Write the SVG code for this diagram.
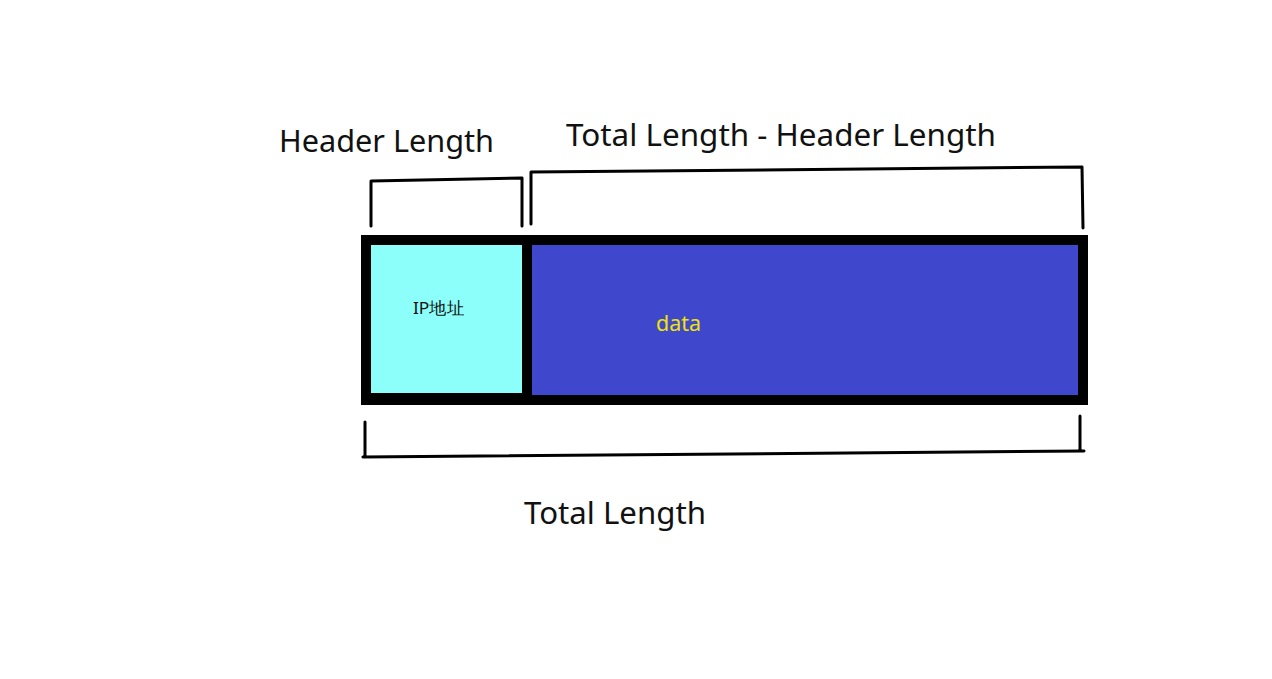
<svg xmlns="http://www.w3.org/2000/svg" width="1272" height="679" viewBox="0 0 1272 679">
<style>
.lbl{font-family:"Noto Sans","Open Sans","Liberation Sans",sans-serif;fill:#111;}
.br{fill:none;stroke:#000;stroke-width:3;stroke-linecap:round;stroke-linejoin:round;}
</style>
<rect width="1272" height="679" fill="#fff"/>
<g id="packet">
<rect x="361" y="235" width="727" height="170" fill="#000"/>
<rect x="371" y="245" width="151" height="148" fill="#8cfffa"/>
<rect x="532" y="245" width="546" height="150" fill="#3f48cc"/>
</g>
<g id="header">
<text x="438.5" y="314" class="lbl" font-size="17" text-anchor="middle" textLength="51" lengthAdjust="spacingAndGlyphs" font-family="'Noto Sans CJK SC',sans-serif">IP地址</text>
</g>
<g id="data">
<text x="656" y="331" font-size="21" textLength="45" lengthAdjust="spacingAndGlyphs" fill="#f2e500" font-family="'Noto Sans','Open Sans',sans-serif">data</text>
</g>
<g id="connectors">
<path class="br" d="M371,226 L371,181 L522,178 L522,226"/>
<path class="br" d="M531,224 L531,172 L1082,167 L1083,228"/>
<path class="br" d="M365,422 L365,456 L363,457 L1084,451 M1080,416 L1080,451"/>
</g>
<g id="labels">
<text x="279" y="152" class="lbl" font-size="30" textLength="215" lengthAdjust="spacingAndGlyphs">Header Length</text>
<text x="566" y="146" class="lbl" font-size="30" textLength="430" lengthAdjust="spacingAndGlyphs">Total Length - Header Length</text>
<text x="524" y="524" class="lbl" font-size="30" textLength="182" lengthAdjust="spacingAndGlyphs">Total Length</text>
</g>
</svg>
